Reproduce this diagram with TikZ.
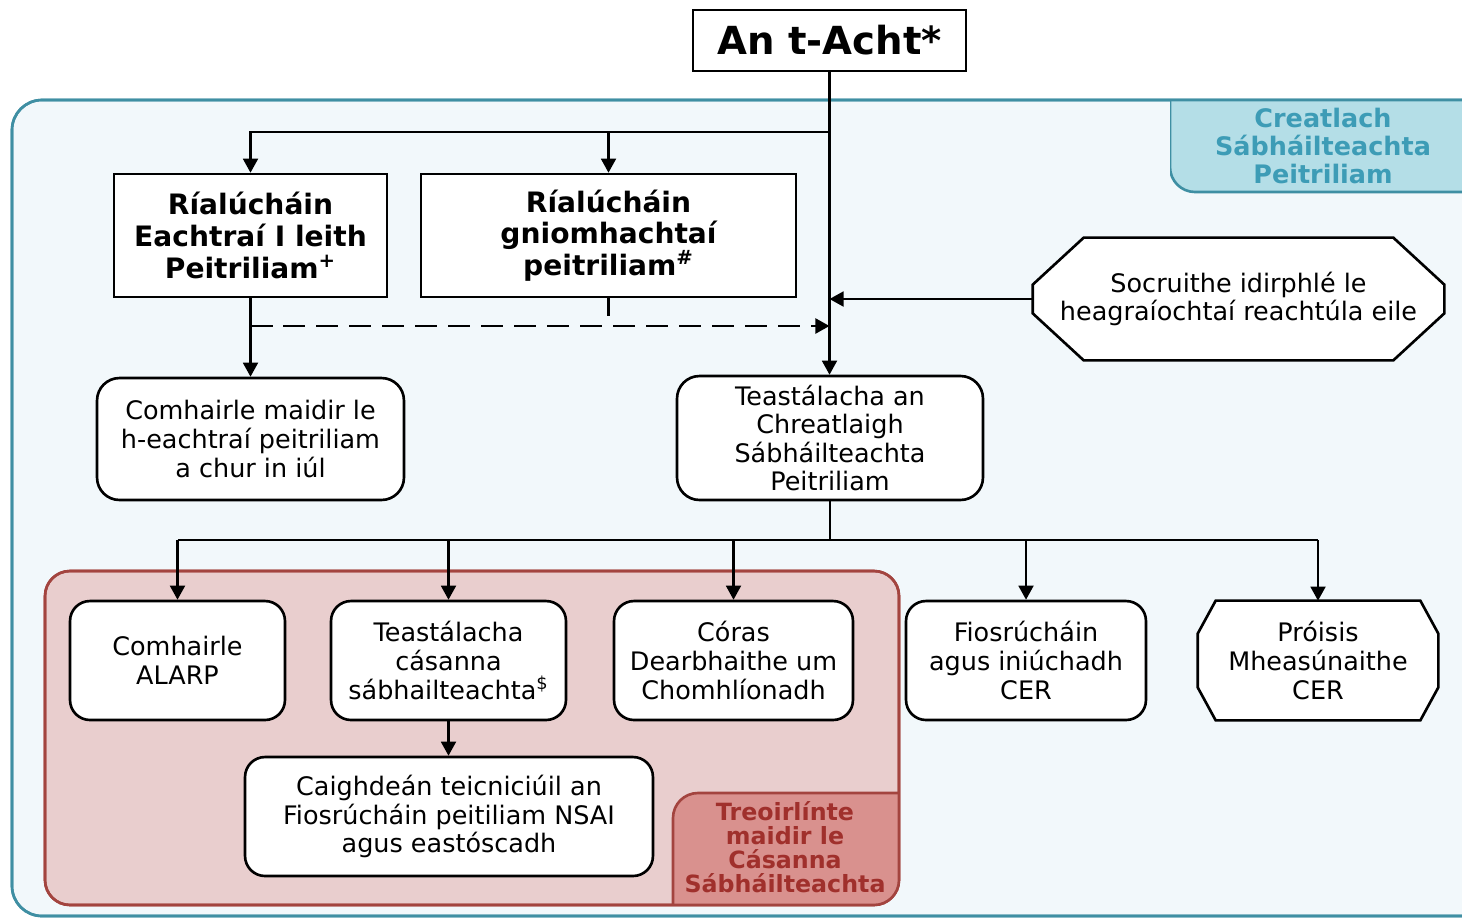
\documentclass[tikz,border=0pt]{standalone}
\usepackage{fontspec}
\setmainfont{DejaVu Sans}
\usetikzlibrary{arrows.meta}
\pgfdeclarelayer{back}
\pgfdeclarelayer{bg}
\pgfsetlayers{back,bg,main}
\definecolor{tealline}{HTML}{3F8FA3}
\definecolor{tealfill}{HTML}{F2F8FB}
\definecolor{teallab}{HTML}{B4DEE7}
\definecolor{tealtext}{HTML}{3D9CB6}
\definecolor{redline}{HTML}{A3443F}
\definecolor{redfill}{HTML}{E9CECE}
\definecolor{redlab}{HTML}{D9918E}
\definecolor{redtext}{HTML}{A0302C}
\begin{document}
\begin{tikzpicture}[x=0.02cm,y=-0.02cm,
  every node/.style={align=center, inner sep=0pt, font=\fontsize{14.5}{16.3}\selectfont},
  sqbox/.style={draw, line width=1.5pt, fill=white, font=\bfseries\fontsize{16}{18}\selectfont},
  rbox/.style={draw, line width=1.5pt, fill=white, rounded corners=0.45cm},
  octline/.style={draw, line width=1.5pt, fill=white},
  conn/.style={line width=1.2pt},
  arr/.style={conn, -{Triangle[length=8pt,width=8.5pt]}},
  ]
\useasboundingbox (0,0) rectangle (1462,920);

\begin{pgfonlayer}{back}
  \fill[white] (0,0) rectangle (1462,920);
  \draw[tealline, fill=tealfill, line width=1.5pt, rounded corners=0.6cm] (12,100) rectangle (1500,916);
  \begin{scope}
    \clip (1170,100) rectangle (1500,300);
    \draw[tealline, fill=teallab, line width=1.5pt, rounded corners=0.5cm] (1170,40) rectangle (1520,192);
  \end{scope}
  \draw[tealline, line width=1.5pt, rounded corners=0.6cm] (12,100) rectangle (1500,916);
  \draw[redline, fill=redfill, line width=1.5pt, rounded corners=0.5cm] (45,571) rectangle (899,905);
  \begin{scope}
    \clip[rounded corners=0.5cm] (45,571) rectangle (899,905);
    \draw[redline, fill=redlab, line width=1.5pt, rounded corners=0.5cm] (673,793) rectangle (960,960);
  \end{scope}
  \draw[redline, line width=1.5pt, rounded corners=0.5cm] (45,571) rectangle (899,905);
\end{pgfonlayer}

\node[font=\bfseries\fontsize{14.5}{16}\selectfont, text=tealtext] (lblA) at (1323,146) {Creatlach\\Sábháilteachta\\Peitriliam};
\node[font=\bfseries\fontsize{13.5}{13.6}\selectfont, text=redtext] (lblB) at (785,847) {Treoirlínte\\maidir le\\Cásanna\\Sábháilteachta};

\node[sqbox, minimum width=5.46cm, minimum height=1.22cm, font=\bfseries\fontsize{22}{24}\selectfont] (acht) at (829.5,40.5) {An t-Acht*};
\node[sqbox, minimum width=5.46cm, minimum height=2.46cm] (r1) at (250.5,235.5) {Ríalúcháin\\Eachtraí I leith\\Peitriliam\textsuperscript{+}};
\node[sqbox, minimum width=7.5cm, minimum height=2.46cm] (r2) at (608.5,235.5) {Ríalúcháin\\gniomhachtaí\\peitriliam\textsuperscript{\#}};

\node[minimum width=8.22cm, minimum height=2.44cm] (soc) at (1238.5,299) {Socruithe idirphlé le\\heagraíochtaí reachtúla eile};

\node[rbox, minimum width=6.12cm, minimum height=2.48cm] (teas) at (830,438) {Teastálacha an\\Chreatlaigh\\Sábháilteachta\\Peitriliam};
\node[rbox, minimum width=6.14cm, minimum height=2.44cm] (comh) at (250.5,439) {Comhairle maidir le\\h-eachtraí peitriliam\\a chur in iúl};

\node[rbox, rounded corners=0.4cm, minimum width=4.3cm, minimum height=2.38cm] (alarp) at (177.5,660.5) {Comhairle\\ALARP};
\node[rbox, rounded corners=0.4cm, minimum width=4.7cm, minimum height=2.38cm] (tcas) at (448.5,660.5) {Teastálacha\\cásanna\\sábhailteachta\textsuperscript{\$}};
\node[rbox, rounded corners=0.4cm, minimum width=4.78cm, minimum height=2.38cm] (coras) at (733.5,660.5) {Córas\\Dearbhaithe um\\Chomhlíonadh};
\node[rbox, rounded corners=0.4cm, minimum width=4.8cm, minimum height=2.38cm] (fios) at (1026,660.5) {Fiosrúcháin\\agus iniúchadh\\CER};
\node[minimum width=4.8cm, minimum height=2.38cm] (proi) at (1318,660.5) {Próisis\\Mheasúnaithe\\CER};
\node[rbox, rounded corners=0.4cm, minimum width=8.16cm, minimum height=2.38cm] (caig) at (449,816.5) {Caighdeán teicniciúil an\\Fiosrúcháin peitiliam NSAI\\agus eastóscadh};

\begin{pgfonlayer}{bg}
  \draw[octline] ([xshift=1.02cm]soc.north west) -- ([xshift=-1.02cm]soc.north east)
    -- ([yshift=-0.94cm]soc.north east) -- ([yshift=0.94cm]soc.south east)
    -- ([xshift=-1.02cm]soc.south east) -- ([xshift=1.02cm]soc.south west)
    -- ([yshift=0.94cm]soc.south west) -- ([yshift=-0.94cm]soc.north west) -- cycle;
  \draw[octline] ([xshift=0.36cm]proi.north west) -- ([xshift=-0.36cm]proi.north east)
    -- ([yshift=-0.66cm]proi.north east) -- ([yshift=0.66cm]proi.south east)
    -- ([xshift=-0.36cm]proi.south east) -- ([xshift=0.36cm]proi.south west)
    -- ([yshift=0.66cm]proi.south west) -- ([yshift=-0.66cm]proi.north west) -- cycle;
\end{pgfonlayer}

% connectors
\coordinate (br) at (829.5,132);
\draw[arr] (acht.south) -- (acht.south |- teas.north);
\draw[arr] (br) -| (r1.north);
\draw[arr] (br -| r2.north) -- (r2.north);
\draw[arr] (soc.west) -- (soc.west -| acht.south);
\draw[arr] (r1.south) -- (comh.north);
\coordinate (dl) at (250.5,326);
\coordinate (dr) at (829.5,326);
\draw[arr, line width=1.4pt, dash pattern=on 0.44cm off 0.22cm] (dl) -- (dr);
\coordinate (stub) at (608.5,316);
\draw[conn] (r2.south) -- (stub);
\coordinate (bus) at (830,540);
\draw[conn] (teas.south) -- (bus);
\draw[conn] (alarp.north |- bus) -- (proi.north |- bus);
\foreach \n in {alarp,tcas,coras,fios,proi}{
  \draw[arr] (\n.north |- bus) -- (\n.north);
}
\draw[arr] (tcas.south) -- (tcas.south |- caig.north);
\end{tikzpicture}
\end{document}
